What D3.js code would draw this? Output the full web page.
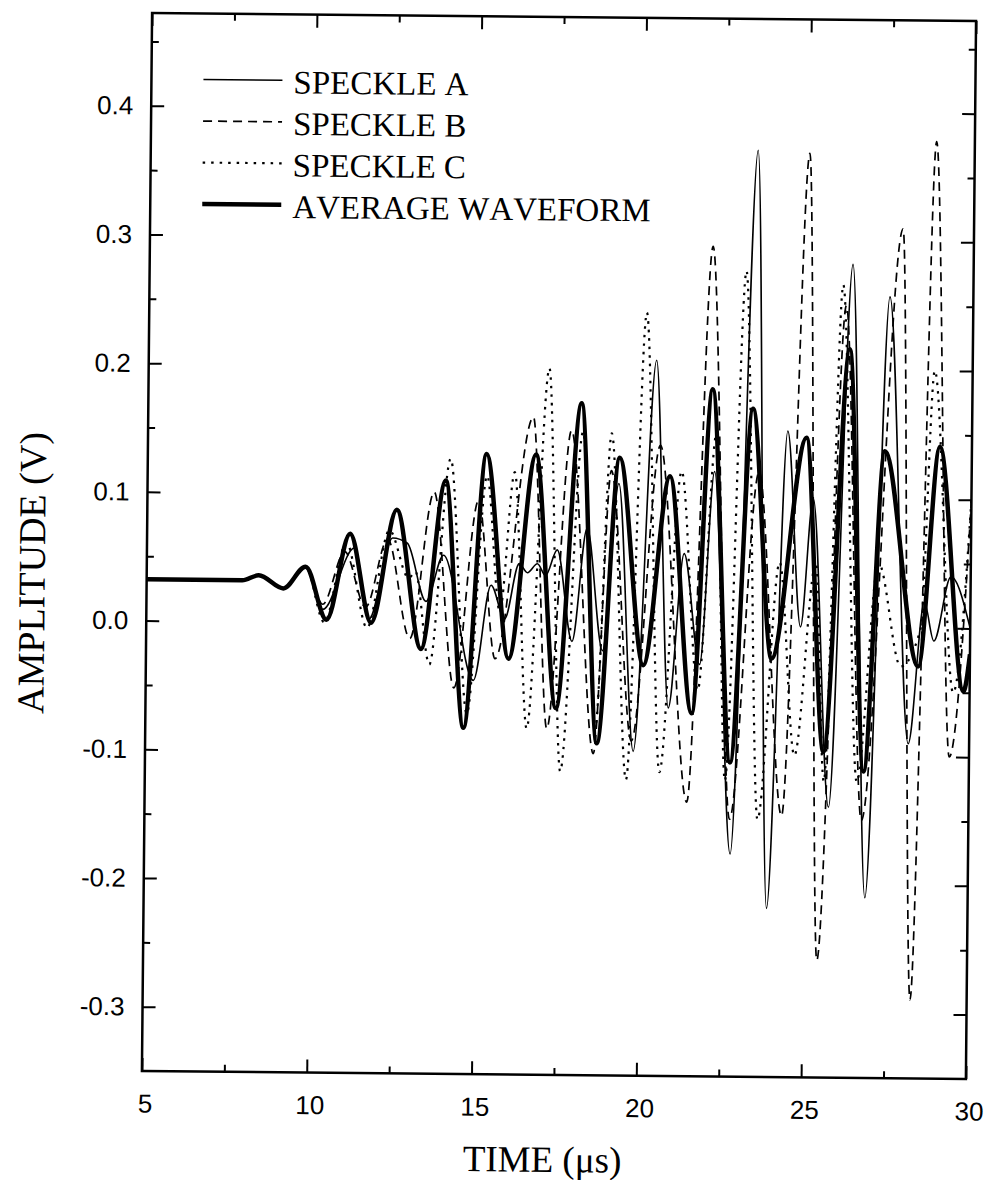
<!DOCTYPE html>
<html>
<head>
<meta charset="utf-8">
<script src="https://cdn.jsdelivr.net/npm/d3@7"></script>
<style>
  body { margin: 0; background: #fff; }
  text { font-kerning: none; }
</style>
</head>
<body>
<svg id="chart"></svg>
<script>
// waveform extrema, [time (us), amplitude (V)]
const speckleA = [
  [5, 0.032], [7.9, 0.032], [8.4, 0.036], [9.15, 0.026], [9.82, 0.042],
  [10.35, 0.01], [11.3, 0.058], [11.76, 0.003], [12.45, 0.066], [12.9, 0.062],
  [13.48, 0.017], [14.0, 0.053], [14.94, -0.044], [15.45, 0.03], [15.87, 0.004],
  [16.3, 0.047], [16.55, 0.04], [16.85, 0.047], [17.1, 0.038], [17.45, 0.058],
  [17.92, -0.013], [18.35, 0.075], [18.85, -0.02], [19.3, 0.11], [19.81, -0.098],
  [20.41, 0.206], [20.86, -0.064], [21.3, 0.056], [21.8, -0.03], [22.2, 0.12],
  [22.78, -0.177], [23.43, 0.37], [23.9, -0.219], [24.41, 0.152], [24.85, 0.0],
  [25.2, 0.10], [25.75, -0.14], [26.34, 0.282], [26.88, -0.21], [27.47, 0.257],
  [28.15, -0.09], [28.6, 0.02], [28.9, -0.01], [29.4, 0.04], [30, 0.0]
];
const speckleB = [
  [5, 0.032], [7.9, 0.032], [8.4, 0.036], [9.15, 0.026], [9.82, 0.043],
  [10.35, 0.014], [11.0, 0.055], [11.65, 0.012], [12.3, 0.065], [13.0, -0.012],
  [13.7, 0.102], [14.35, -0.05], [15.05, 0.096], [15.59, -0.027], [16.69, 0.161],
  [17.18, -0.081], [17.85, 0.151], [18.6, -0.10], [19.07, 0.12], [19.75, -0.09],
  [20.55, 0.14], [21.45, -0.137], [22.09, 0.295], [22.75, -0.15], [23.55, 0.12],
  [24.33, -0.147], [25.0, 0.368], [25.44, -0.259], [26.15, 0.25], [26.75, -0.15],
  [27.85, 0.31], [28.28, -0.289], [28.84, 0.378], [29.4, -0.1], [30, 0.1]
];
const speckleC = [
  [5, 0.032], [7.9, 0.032], [8.4, 0.036], [9.15, 0.026], [9.82, 0.043],
  [10.4, 0.0], [11.05, 0.062], [11.7, -0.004], [12.35, 0.072], [12.95, 0.035],
  [13.15, 0.04], [13.6, -0.032], [14.19, 0.128], [14.75, -0.07], [15.3, 0.115],
  [15.72, 0.01], [16.14, 0.118], [16.57, -0.081], [17.16, 0.199], [17.6, -0.114],
  [18.2, 0.15], [18.65, -0.08], [19.07, 0.149], [19.6, -0.12], [20.1, 0.243],
  [20.61, -0.114], [21.2, 0.12], [21.75, -0.05], [22.25, 0.15], [22.6, -0.12],
  [23.11, 0.276], [23.6, -0.15], [24.2, 0.05], [24.7, -0.1], [25.3, 0.05],
  [25.6, -0.12], [26.05, 0.266], [26.6, -0.12], [27.2, 0.05], [27.9, -0.03],
  [28.5, 0.0], [28.85, 0.2], [29.5, -0.05], [30, 0.1]
];
const averageWave = [
  [5, 0.032], [7.9, 0.032], [8.4, 0.036], [9.15, 0.026], [9.82, 0.043],
  [10.47, 0.002], [11.16, 0.069], [11.82, 0.0], [12.57, 0.088], [13.34, -0.02],
  [14.05, 0.111], [14.65, -0.081], [15.28, 0.132], [16.0, -0.027], [16.78, 0.132],
  [17.45, -0.065], [18.15, 0.172], [18.70, -0.092], [19.32, 0.130], [20.09, -0.031],
  [20.85, 0.116], [21.57, -0.068], [22.12, 0.184], [22.75, -0.106], [23.35, 0.169],
  [23.98, -0.025], [24.98, 0.147], [25.58, -0.097], [26.27, 0.216], [26.80, -0.112],
  [27.36, 0.137], [28.43, -0.030], [29.03, 0.141], [29.81, -0.049], [30, -0.02]
];

const timeTicks = [5, 10, 15, 20, 25, 30];
const timeMinor = [7.5, 12.5, 17.5, 22.5, 27.5];
const ampTicks = [-0.3, -0.2, -0.1, 0.0, 0.1, 0.2, 0.3, 0.4];
const ampMinor = [-0.25, -0.15, -0.05, 0.05, 0.15, 0.25, 0.35, 0.45];
const legendLabels = ["SPECKLE A", "SPECKLE B", "SPECKLE C", "AVERAGE WAVEFORM"];

const width = 985, height = 1180;
const plot = { left: 147, right: 971, top: 17, bottom: 1075 };

const svg = d3.select("#chart")
  .attr("width", width)
  .attr("height", height);

svg.append("rect").attr("width", width).attr("height", height).attr("fill", "#fff");

// the scan is slightly tilted, so the whole figure is turned a little
const g = svg.append("g").attr("transform", "rotate(0.55,559,545)");

const xScale = d3.scaleLinear().domain([5, 30]).range([plot.left, plot.right]);
const yScale = d3.scaleLinear().domain([-0.35, 0.472]).range([plot.bottom, plot.top]);

g.append("clipPath").attr("id", "clip")
  .append("rect")
  .attr("x", plot.left).attr("y", plot.top)
  .attr("width", plot.right - plot.left).attr("height", plot.bottom - plot.top);

// ticks point inward on all four sides
const addAxis = (axis, transform, labels) => {
  const ag = g.append("g").attr("transform", transform).call(axis);
  ag.select(".domain").remove();
  ag.selectAll("line").attr("stroke", "#000").attr("stroke-width", 2);
  if (!labels) ag.selectAll("text").remove();
  return ag;
};

const ampFormat = v => d3.format(".1f")(v).replace("\u2212", "-");

const xb = addAxis(d3.axisBottom(xScale).tickValues(timeTicks).tickSize(-13).tickPadding(23).tickFormat(d3.format("d")),
  `translate(0,${plot.bottom})`, true);
addAxis(d3.axisBottom(xScale).tickValues(timeMinor).tickSize(-7), `translate(0,${plot.bottom})`, false);
addAxis(d3.axisTop(xScale).tickValues(timeTicks).tickSize(-13), `translate(0,${plot.top})`, false);
addAxis(d3.axisTop(xScale).tickValues(timeMinor).tickSize(-7), `translate(0,${plot.top})`, false);

const yl = addAxis(d3.axisLeft(yScale).tickValues(ampTicks).tickSize(-13).tickPadding(18).tickFormat(ampFormat),
  `translate(${plot.left},0)`, true);
addAxis(d3.axisLeft(yScale).tickValues(ampMinor).tickSize(-7), `translate(${plot.left},0)`, false);
addAxis(d3.axisRight(yScale).tickValues(ampTicks).tickSize(-13), `translate(${plot.right},0)`, false);
addAxis(d3.axisRight(yScale).tickValues(ampMinor).tickSize(-7), `translate(${plot.right},0)`, false);

xb.selectAll("text")
  .attr("font-family", "'Liberation Sans', Arial, sans-serif")
  .attr("font-size", 26)
  .attr("fill", "#000")
  .attr("dx", 3)
  .attr("dy", "0.71em");
yl.selectAll("text")
  .attr("font-family", "'Liberation Sans', Arial, sans-serif")
  .attr("font-size", 26)
  .attr("fill", "#000");

// frame
g.append("rect")
  .attr("x", plot.left).attr("y", plot.top)
  .attr("width", plot.right - plot.left).attr("height", plot.bottom - plot.top)
  .attr("fill", "none").attr("stroke", "#000").attr("stroke-width", 2.5);

const line = d3.line()
  .x(d => xScale(d[0]))
  .y(d => yScale(d[1]))
  .curve(d3.curveMonotoneX);

const series = [
  { label: legendLabels[0], values: speckleA, width: 1.6, dash: null },
  { label: legendLabels[1], values: speckleB, width: 1.7, dash: "9,6" },
  { label: legendLabels[2], values: speckleC, width: 2.2, dash: "2.5,6" },
  { label: legendLabels[3], values: averageWave, width: 4.5, dash: null }
];

const curves = g.append("g").attr("clip-path", "url(#clip)");
curves.selectAll("path")
  .data(series)
  .enter()
  .append("path")
  .attr("fill", "none")
  .attr("stroke", "#000")
  .attr("stroke-width", d => d.width)
  .attr("stroke-dasharray", d => d.dash)
  .attr("stroke-linejoin", "round")
  .attr("d", d => line(d.values));

// legend
const legend = g.append("g").attr("transform", "translate(199,83)");
const items = legend.selectAll("g")
  .data(series)
  .enter()
  .append("g")
  .attr("transform", (d, i) => `translate(0,${i * 41.5})`);

items.append("line")
  .attr("x1", 0).attr("x2", 79)
  .attr("stroke", "#000")
  .attr("stroke-width", d => d.width)
  .attr("stroke-dasharray", d => d.dash);

items.append("text")
  .attr("x", 90)
  .attr("y", 13)
  .attr("font-family", "'Liberation Serif', 'Times New Roman', serif")
  .attr("font-size", 33)
  .text(d => d.label);

// axis titles
g.append("text")
  .attr("x", 548)
  .attr("y", 1172)
  .attr("text-anchor", "middle")
  .attr("font-family", "'Liberation Serif', 'Times New Roman', serif")
  .attr("font-size", 37)
  .text("TIME (\u03bcs)");

g.append("text")
  .attr("transform", "translate(45,578) rotate(-90)")
  .attr("text-anchor", "middle")
  .attr("font-family", "'Liberation Serif', 'Times New Roman', serif")
  .attr("font-size", 38)
  .text("AMPLITUDE (V)");
</script>
</body>
</html>
